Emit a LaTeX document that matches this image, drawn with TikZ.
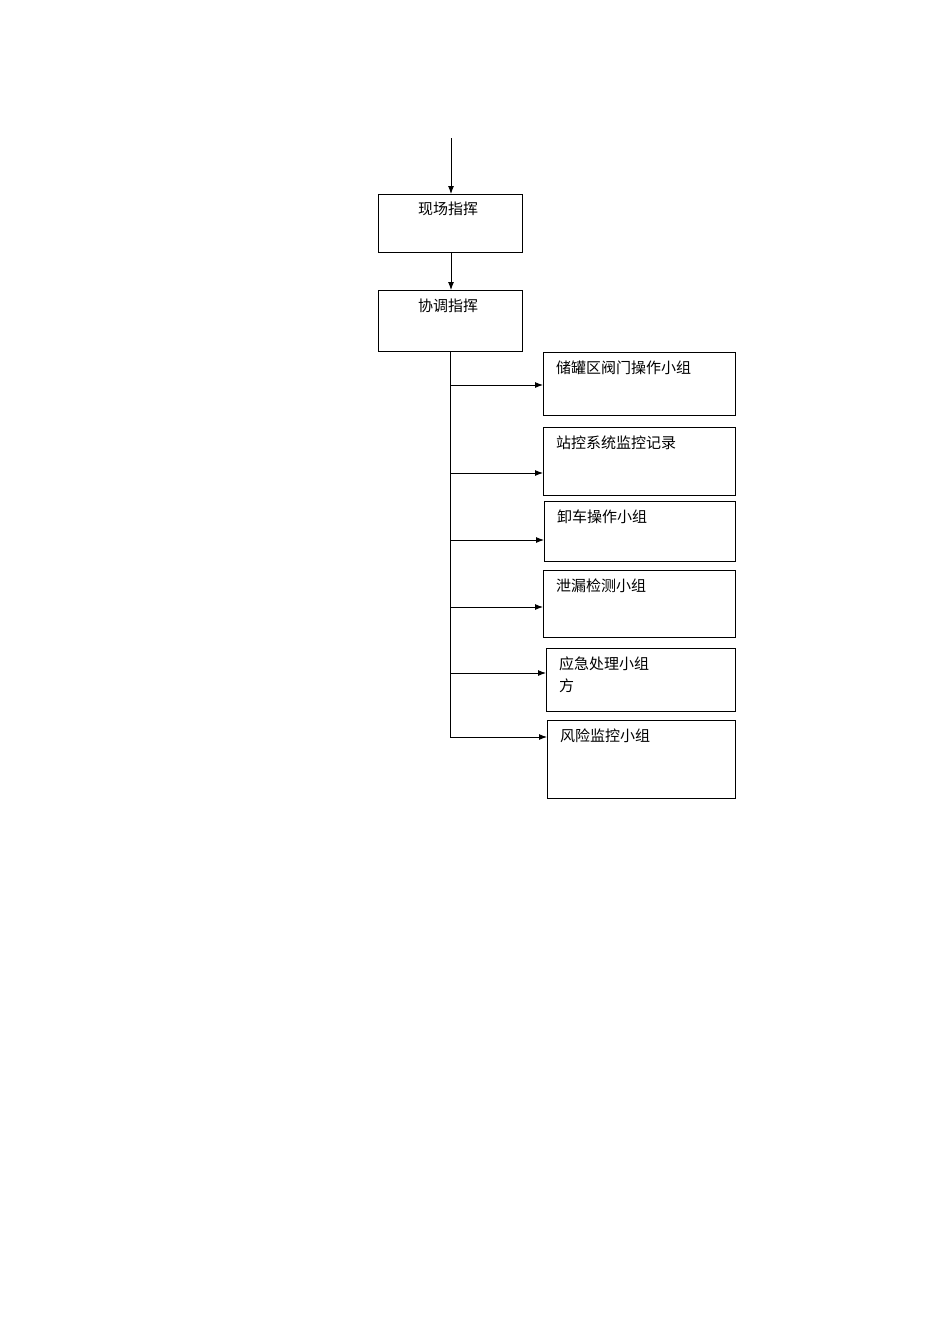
\documentclass[tikz,border=0pt]{standalone}
\usepackage{fontspec}
\newfontfamily\cjk{Noto Sans CJK SC}
\begin{document}
\begin{tikzpicture}[x=1pt,y=-1pt,
  bx/.style={draw,line width=0.9pt,inner sep=0pt},
  lbl/.style={anchor=north west,font=\cjk\fontsize{15}{22}\selectfont,inner sep=0pt,align=left},
  arr/.style={-{Latex[length=8pt,width=6pt]},line width=0.9pt}]
\useasboundingbox (0,0) rectangle (950,1344);
\usetikzlibrary{arrows.meta}
\node[bx,minimum width=144pt,minimum height=58pt,anchor=north west] (a) at (378,194) {};
\node[lbl] at (418,202) {现场指挥};
\node[bx,minimum width=144pt,minimum height=61pt,anchor=north west] (b) at (378,290) {};
\node[lbl] at (418,299) {协调指挥};
\coordinate (top) at (451,138);
\draw[arr] (top) -- (a.north -| top);
\draw[arr] (a.south -| top) -- (b.north -| top);
\coordinate (vt) at (450,351);
\coordinate (vb) at (450,737);
\draw[line width=0.9pt] (vt) -- (vb);
\foreach \n/\x/\t/\b/\y/\s in {
 r1/543/352/415/385/{储罐区阀门操作小组},
 r2/543/427/495/473/{站控系统监控记录},
 r3/544/501/561/540/{卸车操作小组},
 r4/543/570/637/607/{泄漏检测小组},
 r5/546/648/711/673/{应急处理小组\\方},
 r6/547/720/798/737/{风险监控小组}}{
 \node[bx,anchor=north west,minimum width={735-\x},minimum height={\b-\t}] (\n) at (\x,\t) {};
 \node[lbl] at (\x+13,\t+9) {\s};
 \coordinate (s\n) at (450,\y);
 \draw[arr] (s\n) -- (\n.west |- s\n);
}
\end{tikzpicture}
\end{document}
